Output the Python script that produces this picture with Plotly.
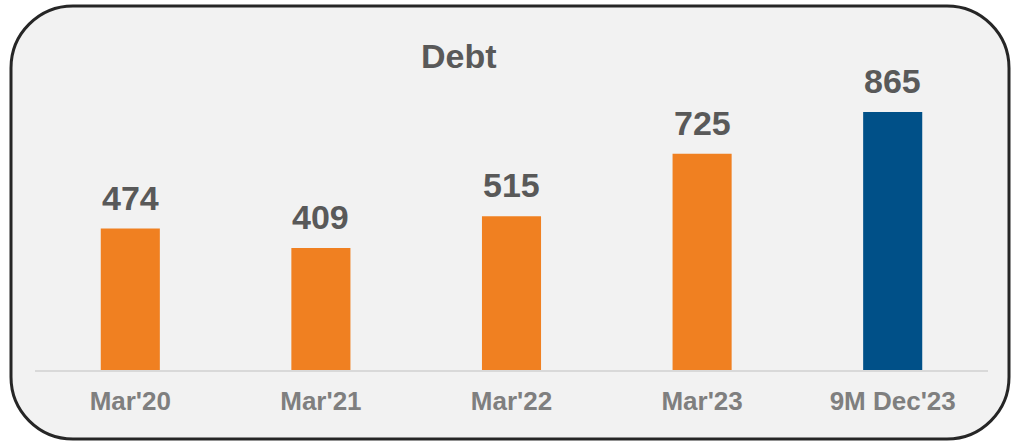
import plotly.graph_objects as go

# chart data
periods = ["Mar'20", "Mar'21", "Mar'22", "Mar'23", "9M Dec'23"]
debt = [474, 409, 515, 725, 865]
bar_colors = ["#F08021", "#F08021", "#F08021", "#F08021", "#005088"]
title_text = "Debt"

W, H = 1011, 443
ML, MR, MT, MB = 35, 23, 60, 73
PW, PH = W - ML - MR, H - MT - MB


def px2paper(x, y):
    # window pixel -> paper coords
    return (x - ML) / PW, (H - MB - y) / PH


def rounded_rect(x0, y0, x1, y1, r):
    k = 0.5523 * r

    def p(x, y):
        a, b = px2paper(x, y)
        return f"{a:.5f},{b:.5f}"

    d = f"M {p(x0 + r, y0)} L {p(x1 - r, y0)} "
    d += f"C {p(x1 - r + k, y0)} {p(x1, y0 + r - k)} {p(x1, y0 + r)} "
    d += f"L {p(x1, y1 - r)} "
    d += f"C {p(x1, y1 - r + k)} {p(x1 - r + k, y1)} {p(x1 - r, y1)} "
    d += f"L {p(x0 + r, y1)} "
    d += f"C {p(x0 + r - k, y1)} {p(x0, y1 - r + k)} {p(x0, y1 - r)} "
    d += f"L {p(x0, y0 + r)} "
    d += f"C {p(x0, y0 + r - k)} {p(x0 + r - k, y0)} {p(x0 + r, y0)} Z"
    return d


fig = go.Figure()
fig.add_trace(go.Bar(
    x=periods, y=debt,
    marker=dict(color=bar_colors, line=dict(width=0)),
    width=0.31,
    hoverinfo="x+y",
))

# value labels above bars
for p, v in zip(periods, debt):
    fig.add_annotation(
        x=p, y=v, text=f"<b>{v}</b>", showarrow=False,
        yanchor="bottom", yshift=10,
        font=dict(family="Liberation Sans, Arial", size=34, color="#595959"),
    )

fig.add_annotation(
    xref="paper", yref="paper",
    x=px2paper(459, 0)[0], y=px2paper(0, 56)[1],
    text=f"<b>{title_text}</b>", showarrow=False,
    xanchor="center", yanchor="middle",
    font=dict(family="Liberation Sans, Arial", size=34, color="#595959"),
)

fig.add_shape(
    type="path", xref="paper", yref="paper",
    path=rounded_rect(11, 6, 1009, 439, 62),
    fillcolor="#F2F2F2", line=dict(color="#262626", width=3),
    layer="below",
)

fig.update_layout(
    width=W, height=H,
    margin=dict(l=ML, r=MR, t=MT, b=MB),
    paper_bgcolor="white",
    plot_bgcolor="rgba(0,0,0,0)",
    showlegend=False,
)
fig.update_xaxes(
    showline=True, linecolor="#D9D9D9", linewidth=1.5,
    showgrid=False, ticks="",
    tickfont=dict(family="Liberation Sans, Arial", size=26, color="#7F7F7F"),
    tickvals=periods, ticktext=[f"<b>{p}</b>" for p in periods],
    ticklabelstandoff=7,
)
fig.update_yaxes(
    range=[0, 1039], visible=False, showgrid=False, zeroline=False,
)

# drop the default page margin so the figure fills the window
fig.write_html(
    "out.html",
    config={"displayModeBar": False},
    post_script="document.body.style.margin='0';document.body.style.overflow='hidden';",
)
